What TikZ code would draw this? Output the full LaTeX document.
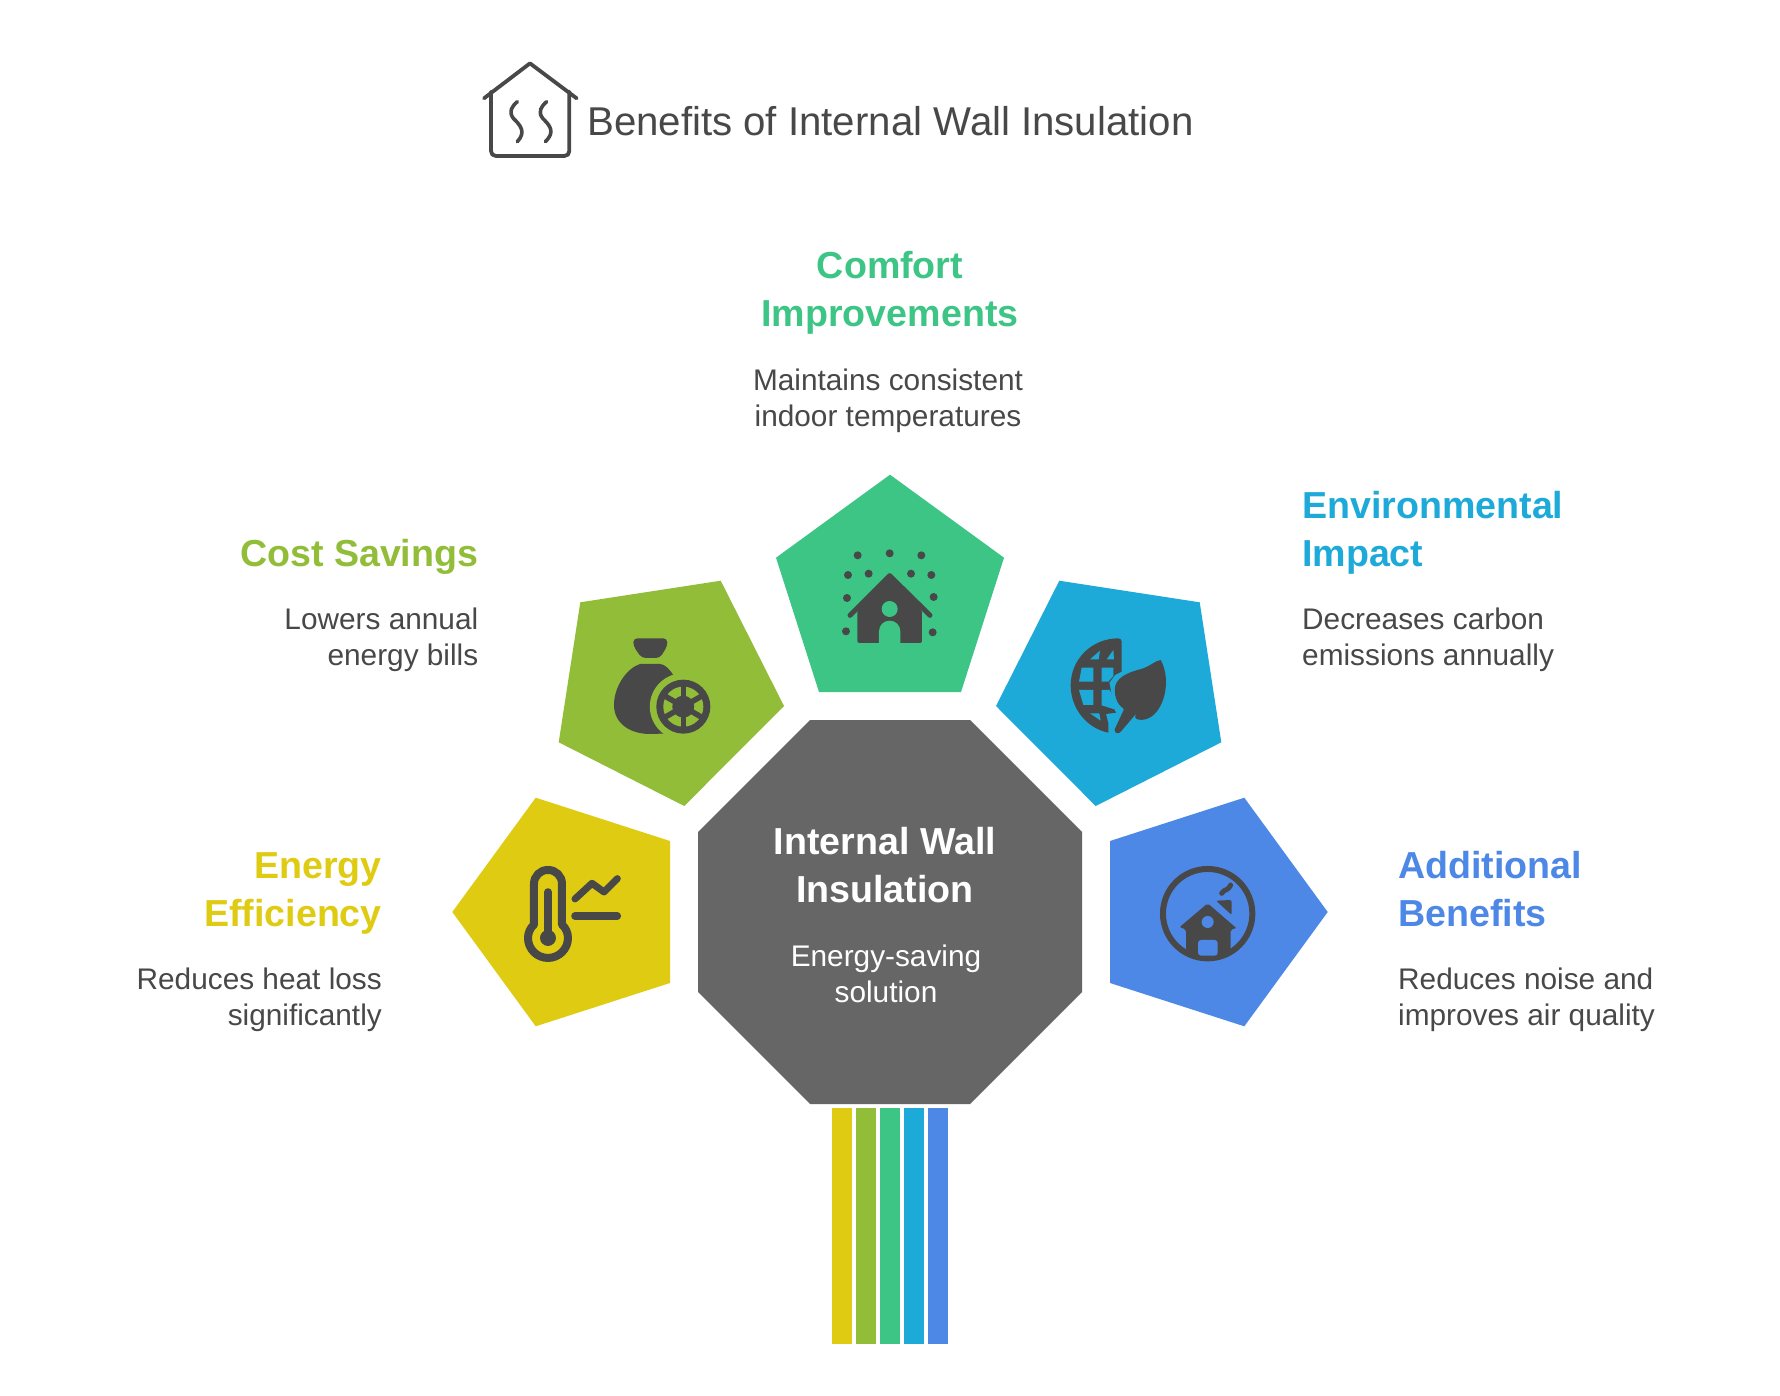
\documentclass[tikz,border=0pt]{standalone}
\usepackage{fontspec}
\setmainfont{Liberation Sans}
\definecolor{cyel}{HTML}{DFCC12}
\definecolor{coli}{HTML}{92BD39}
\definecolor{cgrn}{HTML}{3DC585}
\definecolor{ccya}{HTML}{1EAAD9}
\definecolor{cblu}{HTML}{4E88E7}
\definecolor{cgry}{HTML}{666666}
\definecolor{cink}{HTML}{484848}
\newcommand{\subh}{\rule{0pt}{24pt}}
\newcommand{\headh}{\rule{0pt}{32pt}}
\tikzset{
  x=1pt,y=-1pt,
  headtxt/.style={inner sep=0pt,font=\fontsize{37.6}{48}\selectfont\bfseries},
  subtxt/.style={inner sep=0pt,text=cink,font=\fontsize{29.8}{36}\selectfont},
  ink/.style={fill=cink,draw=none},
  inkline/.style={draw=cink,line cap=round,line join=round,fill=none},
}
\begin{document}
\begin{tikzpicture}
\useasboundingbox (0,0) rectangle (1780,1396);
\fill[white] (0,0) rectangle (1780,1396);
% title
\node[inner sep=0pt,anchor=base west,text=cink,font=\fontsize{40.2}{46}\selectfont] (title) at (587,136) {Benefits of Internal Wall Insulation};
\begin{scope}[shift={(470,50)},x=.3333pt,y=-.3333pt]
\draw[inkline,line width=3.8pt] (42,145) -- (180,40) -- (320,145);
\draw[inkline,line width=3.8pt] (63,125) -- (63,303) .. controls (63,312) and (69,318) .. (78,318) -- (283,318) .. controls (292,318) and (298,312) .. (298,303) -- (298,125);
\draw[inkline,line width=3.6pt] (142,155) .. controls (125,170) and (115,185) .. (130,205) .. controls (150,225) and (170,245) .. (142,275);
\draw[inkline,line width=3.6pt] (230,155) .. controls (213,170) and (203,185) .. (218,205) .. controls (238,225) and (258,245) .. (226,275);
\end{scope}
% pentagons
\fill[cyel] (535.7,797.7) -- (670,841) -- (670,983) -- (535.7,1026.3) -- (452.3,912) -- cycle;
\fill[coli] (580.3,602.3) -- (720.7,580.7) -- (784,706) -- (684.3,806) -- (558.7,742.3) -- cycle;
\fill[cgrn] (890,474.7) -- (1004,557.7) -- (961,692) -- (819,692) -- (776,557.7) -- cycle;
\fill[ccya] (1199.7,602.3) -- (1059.3,580.7) -- (996,706) -- (1095.7,806) -- (1221.3,742.3) -- cycle;
\fill[cblu] (1244.3,797.7) -- (1110,841) -- (1110,983) -- (1244.3,1026.3) -- (1327.7,912) -- cycle;
% octagon
\fill[cgry] (810,720) -- (970,720) -- (1082,832) -- (1082,992) -- (970,1104) -- (810,1104) -- (698,992) -- (698,832) -- cycle;
% bars
\fill[cyel] (832,1108) rectangle (852,1344);
\fill[coli] (856,1108) rectangle (876,1344);
\fill[cgrn] (880,1108) rectangle (900,1344);
\fill[ccya] (904,1108) rectangle (924,1344);
\fill[cblu] (928,1108) rectangle (948,1344);
% thermometer
\begin{scope}[shift={(440,570)},x=.3333pt,y=-.3333pt]
\draw[inkline,line width=8pt] (282,1064) -- (282,942) .. controls (282,918) and (300,900) .. (324,900) .. controls (348,900) and (366,918) .. (366,942) -- (366,1064) .. controls (377,1074) and (384,1088) .. (384,1104) .. controls (384,1137) and (357,1164) .. (324,1164) .. controls (291,1164) and (264,1137) .. (264,1104) .. controls (264,1088) and (271,1074) .. (282,1064) -- cycle;
\draw[inkline,line width=7.5pt] (324,966) -- (324,1100);
\fill[cink] (324,1104) circle[radius=8pt];
\draw[inkline,line width=7pt] (405,987) -- (456,940) -- (492,966) -- (532,926);
\draw[inkline,line width=7.5pt] (405,1038) -- (532,1038);
\end{scope}
% money bag and wheel
\begin{scope}[shift={(440,570)},x=.3333pt,y=-.3333pt]
\fill[cink,rounded corners=4pt] (580,205) -- (682,205) -- (682,228) -- (660,264) -- (605,264) -- (580,228) -- cycle;
\fill[cink] (600,282) .. controls (560,295) and (522,350) .. (522,405) .. controls (522,460) and (570,492) .. (630,492) -- (700,490) -- (760,400) -- (700,315) .. controls (690,300) and (675,282) .. (660,282) -- cycle;
\fill[coli] (730,410) circle[radius=33.5pt];
\fill[cink] (730,410) circle[radius=27pt];
\draw[coli,line width=9pt] (730,410) circle[radius=15.5pt];
\foreach \a in {30,90,150,210,270,330}
  \draw[cink,line width=5.5pt] (730,410) -- ++(\a:72);
\end{scope}
% comfort house
\begin{scope}[shift={(760,460)},x=.3333pt,y=-.3333pt]
\foreach \p in {(293,286),(389,280),(484,286),(264,345),(326,341),(453,341),(514,345),(261,414),(521,411),(258,514),(518,517)}
  \fill[cink] \p circle[radius=4pt];
\fill[cink,rounded corners=2pt] (292,450) -- (389,350) -- (486,450) -- (486,549) -- (292,549) -- cycle;
\draw[inkline,line width=5pt] (270,466) -- (389,347) -- (510,466);
\fill[cgrn] (389,447) circle[radius=8pt];
\fill[cgrn] (357,549) -- (357,514) .. controls (357,496) and (371,482) .. (389,482) .. controls (407,482) and (421,496) .. (421,514) -- (421,549) -- cycle;
\end{scope}
% globe and leaf
\begin{scope}[shift={(1040,600)},x=.3333pt,y=-.3333pt]
\fill[cink] (235,115) .. controls (155,115) and (92,178) .. (92,256) .. controls (92,325) and (140,385) .. (205,398) -- (205,370) -- (198,342) -- (228,338) -- (218,318) -- (212,268) -- (208,248) -- (225,225) -- (245,215) -- (245,125) .. controls (245,118) and (240,115) .. (235,115) -- cycle;
\fill[ccya] (150,178) -- (180,152) -- (176,178) -- cycle;
\fill[ccya] (200,178) -- (220,150) -- (222,178) -- cycle;
\fill[ccya] (125,203) -- (160,203) -- (160,245) -- (117,245) -- cycle;
\fill[ccya] (185,203) -- (220,203) -- (220,228) -- (205,245) -- (185,245) -- cycle;
\fill[ccya] (117,270) -- (160,270) -- (160,315) -- (130,315) -- cycle;
\fill[ccya] (185,270) -- (210,270) -- (230,330) -- (185,316) -- cycle;
\fill[ccya] (150,340) -- (178,340) -- (182,362) -- cycle;
\fill[cink] (362,180) .. controls (385,220) and (385,290) .. (350,335) .. controls (330,360) and (305,362) .. (292,358) .. controls (283,354) and (285,346) .. (288,342) -- (318,282) .. controls (324,275) and (336,280) .. (330,292) -- (245,392) .. controls (238,404) and (222,402) .. (224,388) -- (252,328) .. controls (235,315) and (222,295) .. (225,262) .. controls (228,235) and (260,218) .. (300,208) .. controls (330,200) and (345,182) .. (362,180) -- cycle;
\end{scope}
% additional house
\begin{scope}[shift={(1120,810)},x=.3333pt,y=-.3333pt]
\draw[cink,line width=6pt] (263,311) circle[radius=44.7pt];
\fill[cink,rounded corners=2pt] (263,280) -- (350,355) -- (332,358) -- (332,425) -- (263,450) -- (198,425) -- (198,358) -- (178,352) -- cycle;
\fill[cblu] (263,336) circle[radius=6pt];
\fill[cblu,rounded corners=3pt] (234,437) -- (234,390) -- (293,390) -- (293,437) -- cycle;
\fill[cink,rounded corners=2pt] (288,272) -- (335,270) -- (335,315) -- cycle;
\draw[inkline,line width=5pt] (305,250) .. controls (315,235) and (322,245) .. (332,225);
\end{scope}
% texts
\node[headtxt,text=white,align=center,anchor=north] (ct) at (885,822) {\headh Internal Wall\\Insulation};
\node[subtxt,text=white,align=center,anchor=north] (cs) at (886,942) {\subh Energy-saving\\solution};
\node[headtxt,text=cgrn,align=center,anchor=north] (h3) at (890,246) {\headh Comfort\\Improvements};
\node[subtxt,align=center,anchor=north] (s3) at (888,366) {\subh Maintains consistent\\indoor temperatures};
\node[headtxt,text=coli,align=right,anchor=north east] (h2) at (478.5,534) {\headh Cost Savings};
\node[subtxt,align=right,anchor=north east] (s2) at (478.5,605.5) {\subh Lowers annual\\energy bills};
\node[headtxt,text=ccya,align=left,anchor=north west] (h4) at (1302,486.5) {\headh Environmental\\Impact};
\node[subtxt,align=left,anchor=north west] (s4) at (1302,605.5) {\subh Decreases carbon\\emissions annually};
\node[headtxt,text=cyel,align=right,anchor=north east] (h1) at (382,846) {\headh Energy\\Efficiency};
\node[subtxt,align=right,anchor=north east] (s1) at (382,965.5) {\subh Reduces heat loss\\significantly};
\node[headtxt,text=cblu,align=left,anchor=north west] (h5) at (1398,846) {\headh Additional\\Benefits};
\node[subtxt,align=left,anchor=north west] (s5) at (1398,965.5) {\subh Reduces noise and\\improves air quality};
\end{tikzpicture}
\end{document}
